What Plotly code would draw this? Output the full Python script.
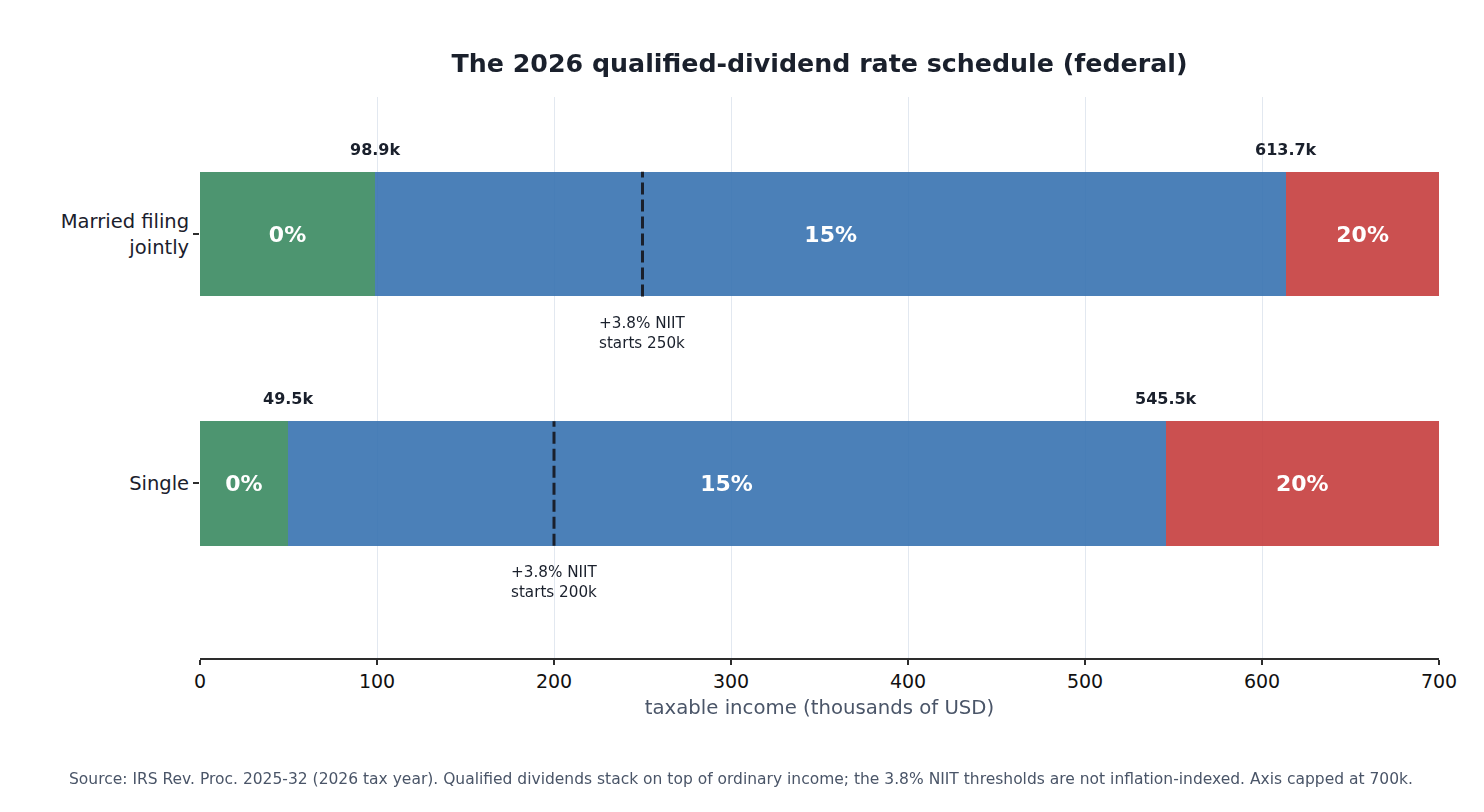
import plotly.graph_objects as go

# filing status (bottom to top) and bracket thresholds, thousands of USD
statuses = ['Single', 'Married filing<br>jointly']
zero_top = [49.5, 98.9]
fifteen_top = [545.5, 613.7]
axis_cap = 700
niit_start = [200, 250]
rates = ['0%', '15%', '20%']
colors = ['#398a60', '#3772b0', '#c63d3d']

seg_0 = zero_top
seg_15 = [b - a for a, b in zip(zero_top, fifteen_top)]
seg_20 = [axis_cap - b for b in fifteen_top]

font = 'DejaVu Sans, Noto Sans, sans-serif'

fig = go.Figure()
for seg, rate, col in zip([seg_0, seg_15, seg_20], rates, colors):
    fig.add_trace(go.Bar(
        y=statuses, x=seg, orientation='h', name=rate,
        marker=dict(color=col, line=dict(width=0)), opacity=0.9,
        text=[rate] * len(statuses), textposition='inside',
        insidetextanchor='middle',
        textfont=dict(color='white', size=22, family=font, weight='bold'),
        width=0.5, hoverinfo='skip', showlegend=False,
    ))

# threshold labels above bars
for i, s in enumerate(statuses):
    for t in (zero_top[i], fifteen_top[i]):
        fig.add_annotation(x=t, y=i, xref='x', yref='y', text=f'{t:.1f}k',
                           showarrow=False, yshift=85,
                           font=dict(size=16, color='#1a202c', family=font, weight='bold'))
    # NIIT marker
    fig.add_shape(type='line', x0=niit_start[i], x1=niit_start[i], y0=i - 0.25, y1=i + 0.25,
                  xref='x', yref='y', line=dict(color='#1a202c', width=3, dash='12px,5px'))
    fig.add_annotation(x=niit_start[i], y=i, xref='x', yref='y',
                       text=f'+3.8% NIIT<br>starts {niit_start[i]}k',
                       showarrow=False, yanchor='top', yshift=-78,
                       font=dict(size=15.2, color='#1a202c', family=font))

fig.add_annotation(x=0.437, y=0, xref='paper', yref='paper', yanchor='middle', yshift=-121,
                   xanchor='center', showarrow=False,
                   text='Source: IRS Rev. Proc. 2025-32 (2026 tax year). Qualified dividends stack on top of ordinary income; the 3.8% NIIT thresholds are not inflation-indexed. Axis capped at 700k.',
                   font=dict(size=15.5, color='#4a5568', family=font))

fig.update_layout(
    barmode='stack', bargap=0.5,
    width=1476, height=804,
    margin=dict(l=192, r=45, t=89, b=154),
    plot_bgcolor='white', paper_bgcolor='white',
    font=dict(family=font, color='#1a202c'),
    title=dict(text='<b>The 2026 qualified-dividend rate schedule (federal)</b>',
               x=0.5498, xanchor='center', y=0.932, yanchor='middle',
               font=dict(size=25.3, color='#1a202c', family=font)),
)
fig.update_xaxes(range=[0, axis_cap], dtick=100, showgrid=True, gridcolor='#e2e8f0',
                 zeroline=False, showline=True, linecolor='#2d2d2d', linewidth=2,
                 ticks='outside', ticklen=5, tickwidth=2, tickcolor='#2d2d2d',
                 tickfont=dict(size=19, color='#111111'),
                 title=dict(text='taxable income (thousands of USD)',
                            font=dict(size=19.7, color='#4a5568'), standoff=9))
fig.update_yaxes(range=[-0.7, 1.55], showgrid=False, zeroline=False, showline=False,
                 ticks='outside', ticklen=6, tickwidth=1.5, tickcolor='#2d2d2d',
                 tickfont=dict(size=19.5, color='#1a202c'))

fig.write_html('out.html')
